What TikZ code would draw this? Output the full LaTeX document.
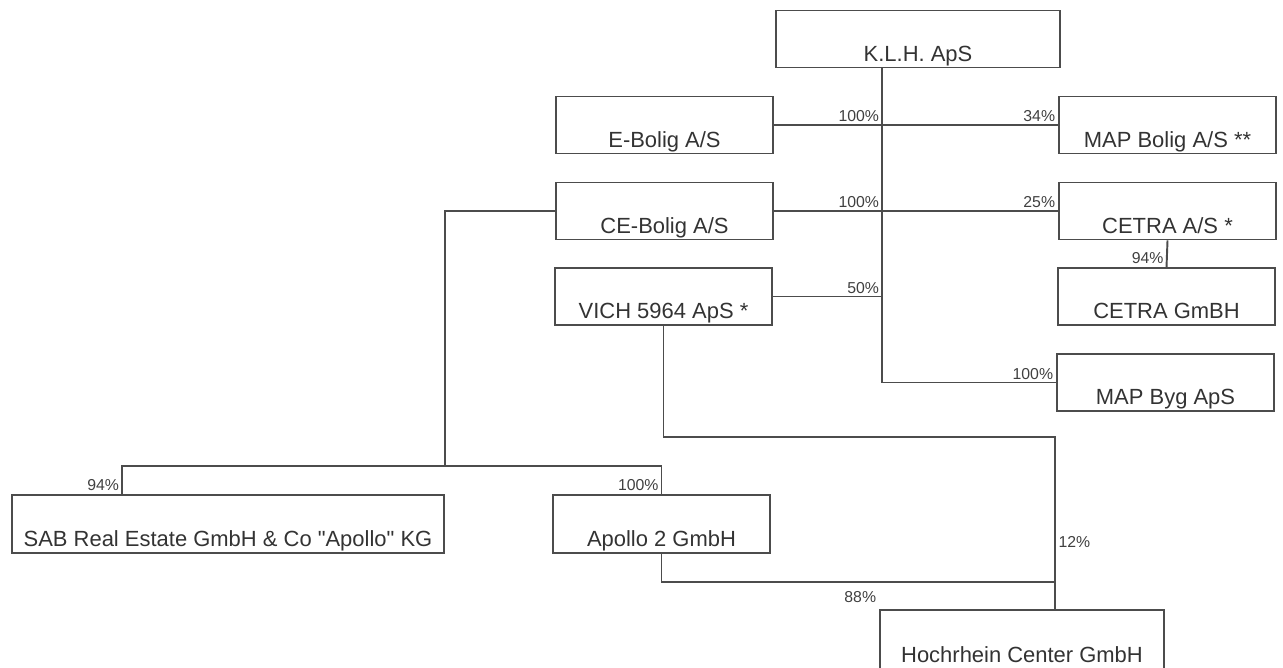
\documentclass[tikz,border=0pt]{standalone}
\usepackage{fontspec}
\setmainfont{Liberation Sans}
\begin{document}
\begin{tikzpicture}[
    x=0.02cm, y=-0.02cm,
    company/.style={rectangle, draw=black!70, line width=1.1pt, minimum width=4.34cm, minimum height=1.14cm,
        inner xsep=0pt, inner ysep=0pt, text height=0.96cm, text depth=0.08cm, text=black!80,
        font=\fontsize{12.5}{14}\selectfont},
    wide/.style={minimum width=5.68cm},
    share/.style={font=\fontsize{9}{10}\selectfont, text=black!75, inner sep=1.5pt},
    link/.style={draw=black!70, line width=1.1pt}
]
\useasboundingbox (0,0) rectangle (1283,667);

% Companies
\node[company, wide] (klh) at (918, 39) {K.L.H. ApS};
\node[company] (ebolig) at (664.5, 125) {E-Bolig A/S};
\node[company] (mapbolig) at (1167.5, 125) {MAP Bolig A/S **};
\node[company] (cebolig) at (664.5, 211) {CE-Bolig A/S};
\node[company] (cetra) at (1167.5, 211) {CETRA A/S *};
\node[company] (vich) at (663.5, 296.5) {VICH 5964 ApS *};
\node[company] (cetragmbh) at (1166.5, 296.5) {CETRA GmBH};
\node[company] (mapbyg) at (1165.5, 382.5) {MAP Byg ApS};
\node[company, minimum width=8.64cm, minimum height=1.16cm] (sab) at (228, 524) {SAB Real Estate GmbH \& Co \textquotedbl Apollo\textquotedbl{} KG};
\node[company, minimum height=1.16cm] (apollo) at (661.5, 524) {Apollo 2 GmbH};
\node[company, wide, minimum height=1.2cm] (hochrhein) at (1022, 640) {Hochrhein Center GmbH};

% Junctions
\coordinate (trunk) at (882, 0);
\coordinate (split) at (445, 466);
\coordinate (sabin) at (122, 466);
\coordinate (hin) at (1055, 437);
\coordinate (hmid) at (1055, 582);

% Ownership
\draw[link] (klh.south -| trunk) |- (mapbyg.west);
\draw[link] (ebolig.east) -- (mapbolig.west);
\draw[link] (cebolig.east) -- (cetra.west);
\draw[link] (vich.east) -- (vich.east -| trunk);
\draw[link] (cetra.south) -- (cetragmbh.north);
\draw[link] (cebolig.west) -| (split);
\draw[link] (sab.north -| sabin) -- (sabin) -| (apollo.north);
\draw[link] (vich.south) |- (hin) -- node[share, right, pos=0.61]{12\%} (hin |- hochrhein.north);
\draw[link] (apollo.south) |- (hmid);

% Shares
\node[share, anchor=south east] at (ebolig.east -| trunk) {100\%};
\node[share, anchor=south east] at (mapbolig.west) {34\%};
\node[share, anchor=south east] at (cebolig.east -| trunk) {100\%};
\node[share, anchor=south east] at (cetra.west) {25\%};
\node[share, anchor=south east] at (vich.east -| trunk) {50\%};
\node[share, anchor=south east] at (cetragmbh.north) {94\%};
\node[share, anchor=south east] at (mapbyg.west) {100\%};
\node[share, anchor=south east] at (sab.north -| sabin) {94\%};
\node[share, anchor=south east] at (apollo.north) {100\%};
\node[share, anchor=north east, yshift=-0.12cm] at (hochrhein.west |- hmid) {88\%};

\end{tikzpicture}
\end{document}
